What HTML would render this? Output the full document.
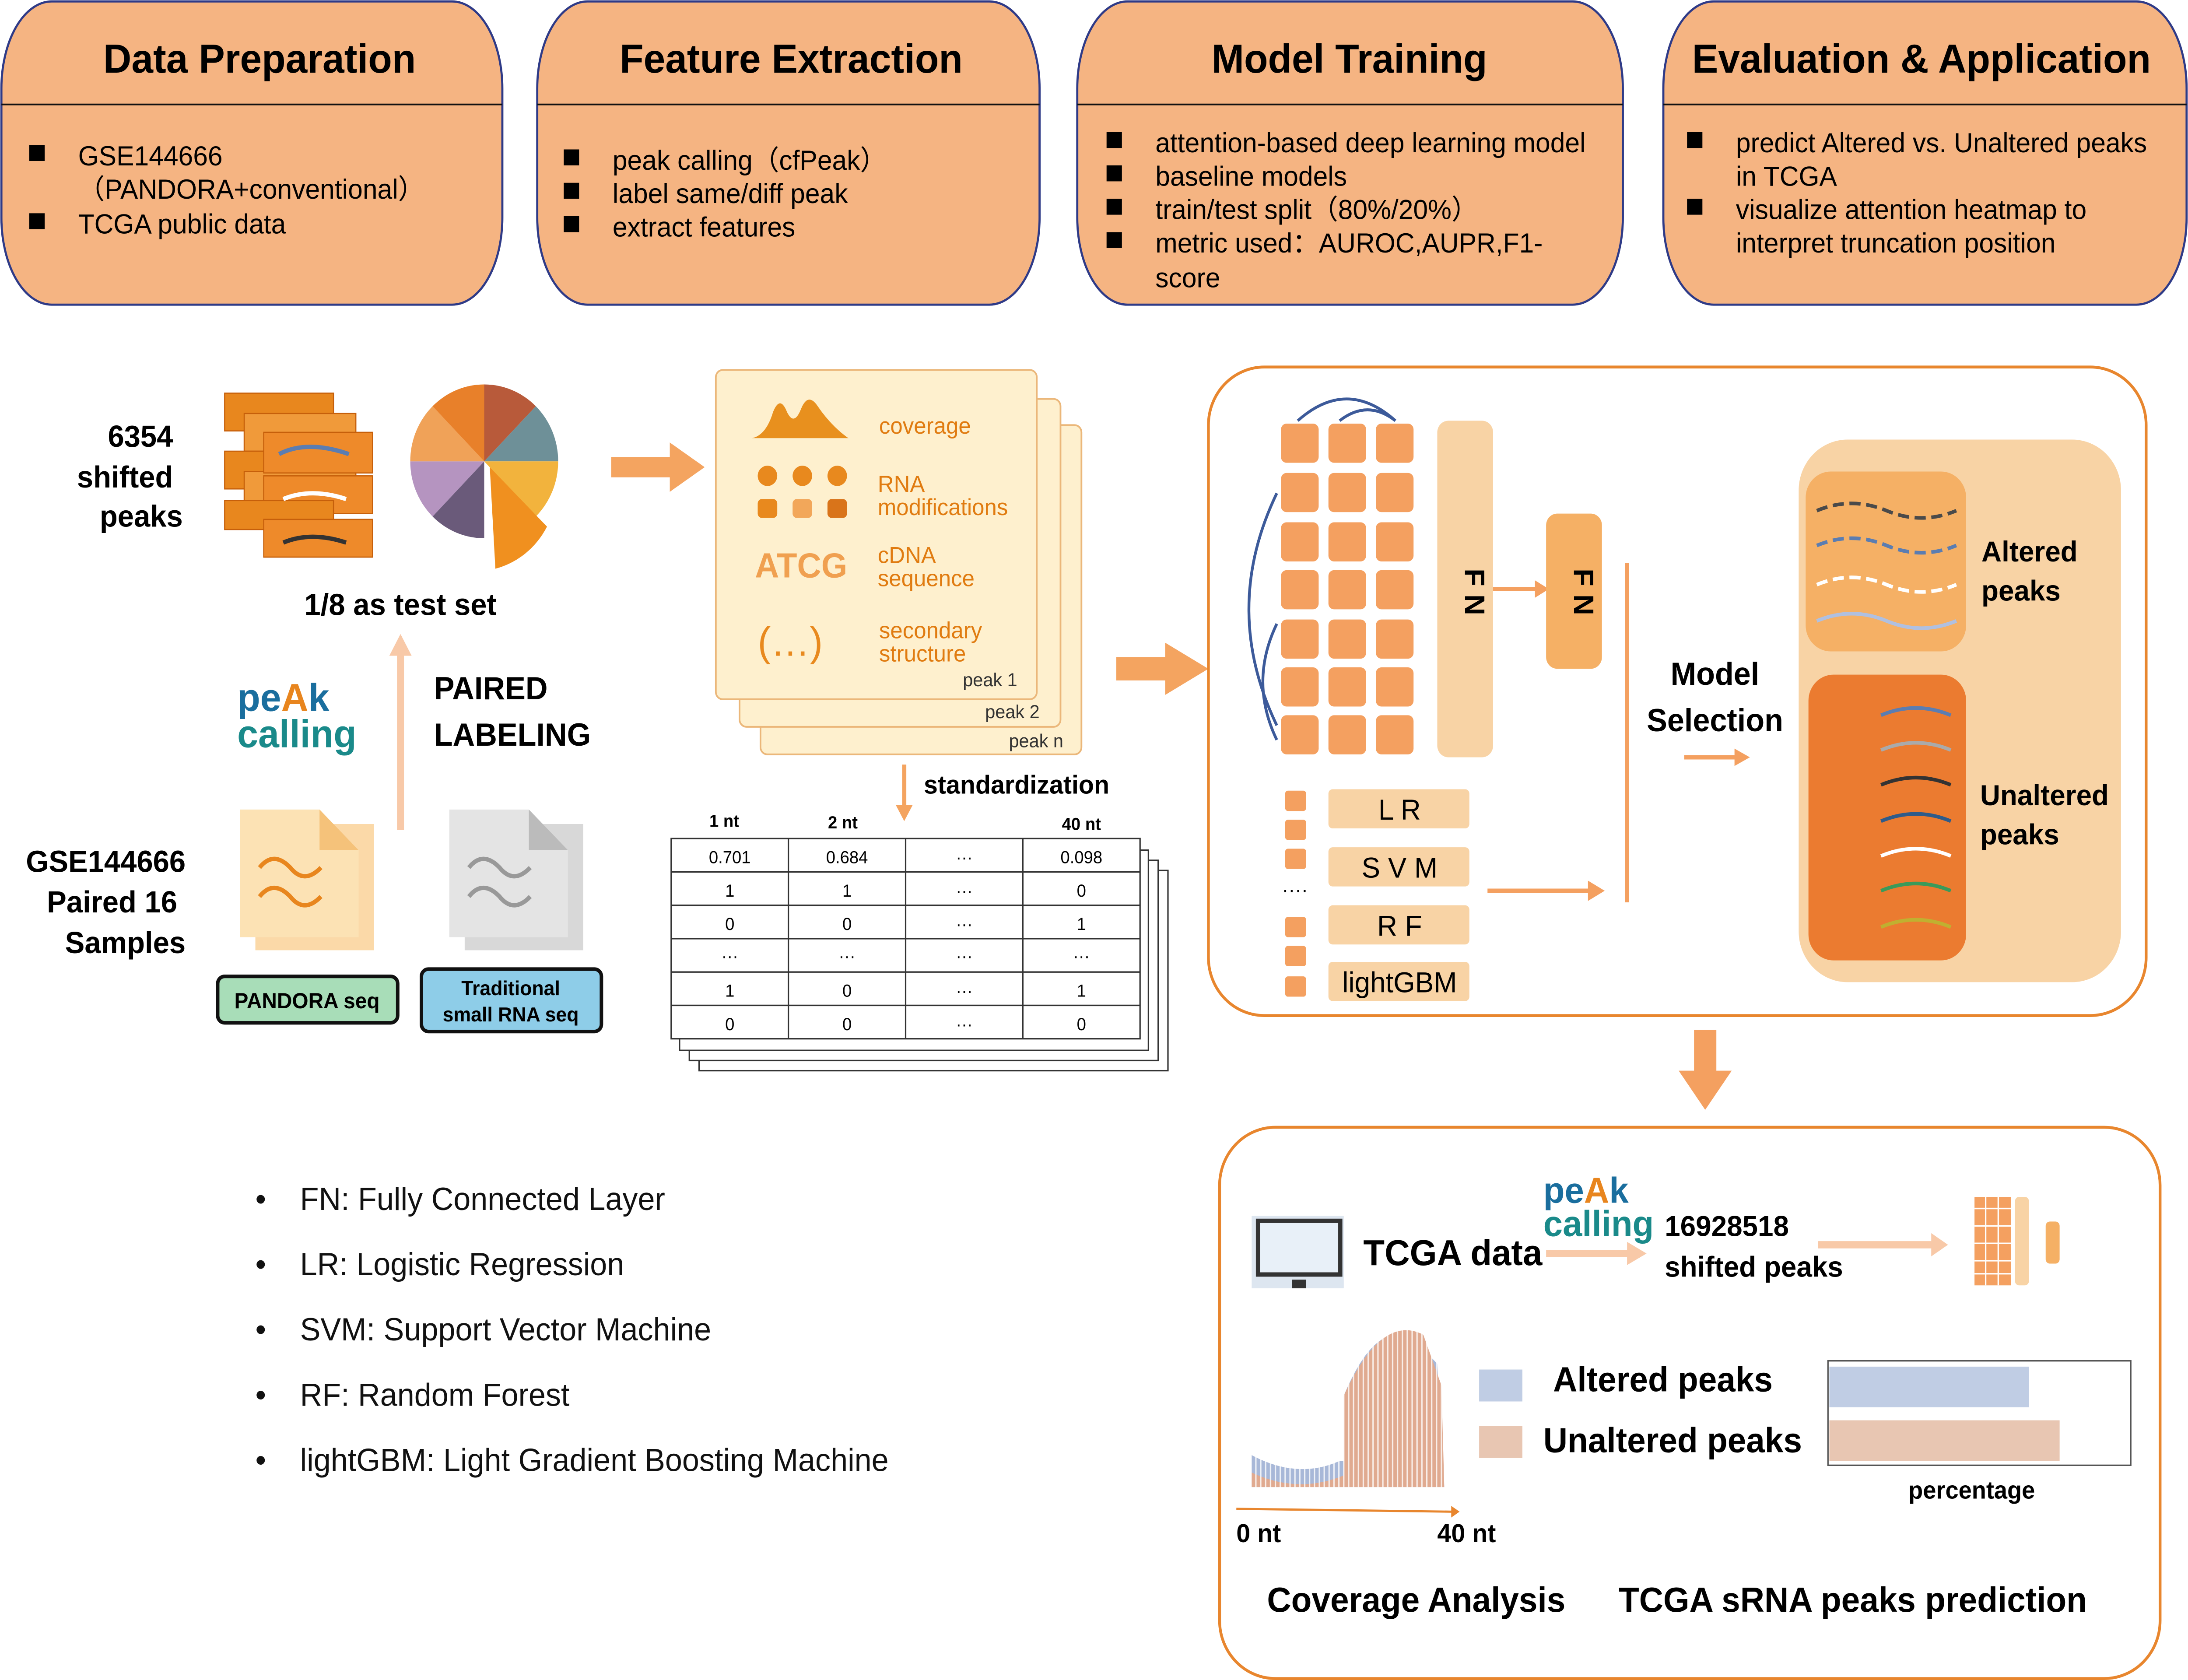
<!DOCTYPE html>
<html><head><meta charset="utf-8"><style>
html,body{margin:0;padding:0;background:#fff;overflow:hidden;width:100%;height:100%}
svg{display:block;width:100vw;height:100vh}
text{font-family:"Liberation Sans",sans-serif}
</style></head><body>
<svg viewBox="0 0 1568 1158" preserveAspectRatio="none" xmlns="http://www.w3.org/2000/svg">
<defs>
<pattern id="stripes" width="3.5" height="10" patternUnits="userSpaceOnUse"><rect width="1" height="10" fill="#fff" opacity="0.8"/></pattern>
</defs>
<g stroke="#2E3A87" stroke-width="1.5">
<rect x="1" y="1" width="359" height="209" rx="36" ry="60" fill="#F5B482"/>
<rect x="385" y="1" width="360" height="209" rx="36" ry="60" fill="#F5B482"/>
<rect x="772" y="1" width="391" height="209" rx="36" ry="60" fill="#F5B482"/>
<rect x="1192" y="1" width="375" height="209" rx="36" ry="60" fill="#F5B482"/>
</g>
<g stroke="#111" stroke-width="1.2">
<line x1="1" y1="72" x2="360" y2="72"/><line x1="385" y1="72" x2="745" y2="72"/>
<line x1="772" y1="72" x2="1163" y2="72"/><line x1="1192" y1="72" x2="1567" y2="72"/>
</g>
<g font-size="28" font-weight="bold" text-anchor="middle" fill="#000">
<text x="186" y="50">Data Preparation</text><text x="567" y="50">Feature Extraction</text>
<text x="967" y="50">Model Training</text><text x="1377" y="50">Evaluation &amp; Application</text>
</g>
<g font-size="19" fill="#000">
<rect x="21" y="100" width="11" height="11"/><text x="56" y="114">GSE144666</text>
<text x="56" y="137">（PANDORA+conventional）</text>
<rect x="21" y="147" width="11" height="11"/><text x="56" y="161">TCGA public data</text>
<rect x="404" y="103" width="11" height="11"/><text x="439" y="117">peak calling（cfPeak）</text>
<rect x="404" y="126" width="11" height="11"/><text x="439" y="140">label same/diff peak</text>
<rect x="404" y="149" width="11" height="11"/><text x="439" y="163">extract features</text>
<rect x="793" y="91" width="11" height="11"/><text x="828" y="105">attention-based deep learning model</text>
<rect x="793" y="114" width="11" height="11"/><text x="828" y="128">baseline models</text>
<rect x="793" y="137" width="11" height="11"/><text x="828" y="151">train/test split（80%/20%）</text>
<rect x="793" y="160" width="11" height="11"/><text x="828" y="174">metric used：AUROC,AUPR,F1-</text>
<text x="828" y="198">score</text>
<rect x="1209" y="91" width="11" height="11"/><text x="1244" y="105">predict Altered vs. Unaltered peaks</text>
<text x="1244" y="128">in TCGA</text>
<rect x="1209" y="137" width="11" height="11"/><text x="1244" y="151">visualize attention heatmap to</text>
<text x="1244" y="174">interpret truncation position</text>
</g>
<g font-size="21" font-weight="bold" text-anchor="end">
<text x="124" y="308">6354</text><text x="124" y="336">shifted</text><text x="131" y="363">peaks</text>
<text x="133" y="601">GSE144666</text><text x="127" y="629">Paired 16</text><text x="133" y="657">Samples</text>
</g>
<g stroke="#C65F0A" stroke-width="0.8">
<rect x="161" y="271" width="78" height="26" fill="#E8871E"/>
<rect x="175" y="285" width="80" height="26" fill="#F09A3A"/>
<rect x="161" y="311" width="78" height="26" fill="#E8871E"/>
<rect x="175" y="325" width="80" height="26" fill="#F09A3A"/>
<rect x="189" y="298" width="78" height="28" fill="#EE8A2A"/>
<rect x="189" y="328" width="78" height="26" fill="#EE8A2A"/>
<rect x="161" y="345" width="78" height="20" fill="#E8871E"/>
<rect x="189" y="358" width="78" height="26" fill="#EE8A2A"/>
</g>
<path d="M200,313 q20,-10 50,0" stroke="#5B7DB1" stroke-width="3" fill="none"/>
<path d="M203,344 q20,-8 45,0" stroke="#fff" stroke-width="3" fill="none"/>
<path d="M203,374 q20,-8 45,0" stroke="#333" stroke-width="3" fill="none"/>
<g transform="translate(347,318)">
<path d="M0,0 L0,-53 A53,53 0 0 1 37,-38 z" fill="#B85A3A"/>
<path d="M0,0 L37,-38 A53,53 0 0 1 53,0 z" fill="#6E9098"/>
<path d="M0,0 L53,0 A53,53 0 0 1 37,38 z" fill="#F2B33D"/>
<path d="M4,4 L45,45 A58,58 0 0 1 8,74 z" fill="#F0901F"/>
<path d="M0,0 L0,53 A53,53 0 0 1 -37,38 z" fill="#6A5A7A"/>
<path d="M0,0 L-37,38 A53,53 0 0 1 -53,0 z" fill="#B594C0"/>
<path d="M0,0 L-53,0 A53,53 0 0 1 -37,-38 z" fill="#F0A258"/>
<path d="M0,0 L-37,-38 A53,53 0 0 1 0,-53 z" fill="#E8802A"/>
</g>
<polygon points="438,315 480,315 480,305 505,322 480,339 480,329 438,329" fill="#F4A460"/>
<text x="287" y="424" font-size="21" font-weight="bold" text-anchor="middle">1/8 as test set</text>
<line x1="287" y1="572" x2="287" y2="450" stroke="#F8C9A8" stroke-width="5"/>
<polygon points="279,452 287,437 295,452" fill="#F8C9A8"/>
<text x="170" y="490" font-size="27" font-weight="bold" fill="#1A6E9E" font-family="Liberation Serif">pe<tspan fill="#E8851E">A</tspan>k</text>
<text x="170" y="515" font-size="27" font-weight="bold" fill="#1A8A8A" font-family="Liberation Serif">calling</text>
<g font-size="22" font-weight="bold"><text x="311" y="482">PAIRED</text><text x="311" y="514">LABELING</text></g>
<rect x="183" y="568" width="85" height="87" fill="#FBD9A8"/>
<path d="M172,558 h57 l28,28 v60 h-85 z" fill="#FCE2B4"/>
<path d="M229,558 v28 h28 z" fill="#F5C27A"/>
<path d="M186,598 q10,-12 22,0 q10,12 22,0 M186,618 q10,-12 22,0 q10,12 22,0" stroke="#E8861E" stroke-width="3" fill="none"/>
<rect x="333" y="568" width="85" height="87" fill="#D8D8D8"/>
<path d="M322,558 h57 l28,28 v60 h-85 z" fill="#E4E4E4"/>
<path d="M379,558 v28 h28 z" fill="#BBB"/>
<path d="M336,598 q10,-12 22,0 q10,12 22,0 M336,618 q10,-12 22,0 q10,12 22,0" stroke="#999" stroke-width="3" fill="none"/>
<rect x="156" y="673" width="129" height="32" rx="5" fill="#A8DDB8" stroke="#111" stroke-width="2.5"/>
<text x="220" y="695" font-size="15" font-weight="bold" text-anchor="middle">PANDORA seq</text>
<rect x="302" y="668" width="129" height="43" rx="5" fill="#8ECDE8" stroke="#111" stroke-width="2.5"/>
<text x="366" y="686" font-size="14" font-weight="bold" text-anchor="middle">Traditional</text>
<text x="366" y="704" font-size="14" font-weight="bold" text-anchor="middle">small RNA seq</text>
<g fill="#FEF0CE" stroke="#EBB77A" stroke-width="1.2">
<rect x="545" y="293" width="230" height="227" rx="5"/>
<rect x="530" y="275" width="230" height="226" rx="5"/>
<rect x="513" y="255" width="230" height="227" rx="5"/>
</g>
<path d="M539,302 q10,-2 15,-18 q5,-12 10,0 q5,10 10,-2 q5,-12 12,-2 q10,14 22,22 z" fill="#E8901E"/>
<g fill="#E8891E"><circle cx="550" cy="328" r="7"/><circle cx="575" cy="328" r="7"/><circle cx="600" cy="328" r="7"/>
<rect x="543" y="344" width="14" height="13" rx="3"/><rect x="568" y="344" width="14" height="13" rx="3" fill="#F2A75A"/><rect x="593" y="344" width="14" height="13" rx="3" fill="#D9741A"/></g>
<text x="541" y="398" font-size="24" font-weight="bold" fill="#F0A050">ATCG</text>
<text x="543" y="452" font-size="28" fill="#E8891E">(…)</text>
<g font-size="16" fill="#E07B10">
<text x="630" y="299">coverage</text><text x="629" y="339">RNA</text><text x="629" y="355">modifications</text>
<text x="629" y="388">cDNA</text><text x="629" y="404">sequence</text>
<text x="630" y="440">secondary</text><text x="630" y="456">structure</text></g>
<g font-size="13" fill="#333"><text x="690" y="473">peak 1</text><text x="706" y="495">peak 2</text><text x="723" y="515">peak n</text></g>
<line x1="648" y1="527" x2="648" y2="556" stroke="#F4A460" stroke-width="3"/>
<polygon points="642,555 648,566 654,555" fill="#F4A460"/>
<text x="662" y="547" font-size="18" font-weight="bold">standardization</text>
<g fill="#fff" stroke="#333" stroke-width="1">
<rect x="501" y="600" width="336" height="138"/><rect x="494" y="593" width="336" height="138"/><rect x="487" y="586" width="336" height="138"/>
<rect x="481" y="578" width="336" height="138"/></g>
<g stroke="#333" stroke-width="1">
<line x1="481" y1="601" x2="817" y2="601"/><line x1="481" y1="624" x2="817" y2="624"/><line x1="481" y1="647" x2="817" y2="647"/>
<line x1="481" y1="670" x2="817" y2="670"/><line x1="481" y1="693" x2="817" y2="693"/>
<line x1="565" y1="578" x2="565" y2="716"/><line x1="649" y1="578" x2="649" y2="716"/><line x1="733" y1="578" x2="733" y2="716"/>
</g>
<g font-size="12" text-anchor="middle">
<text x="519" y="570" font-weight="bold">1 nt</text><text x="604" y="571" font-weight="bold">2 nt</text><text x="775" y="572" font-weight="bold">40 nt</text>
<text x="523" y="595">0.701</text><text x="607" y="595">0.684</text><text x="691" y="595">···</text><text x="775" y="595">0.098</text>
<text x="523" y="618">1</text><text x="607" y="618">1</text><text x="691" y="618">···</text><text x="775" y="618">0</text>
<text x="523" y="641">0</text><text x="607" y="641">0</text><text x="691" y="641">···</text><text x="775" y="641">1</text>
<text x="523" y="663">···</text><text x="607" y="663">···</text><text x="691" y="663">···</text><text x="775" y="663">···</text>
<text x="523" y="687">1</text><text x="607" y="687">0</text><text x="691" y="687">···</text><text x="775" y="687">1</text>
<text x="523" y="710">0</text><text x="607" y="710">0</text><text x="691" y="710">···</text><text x="775" y="710">0</text>
</g>
<polygon points="800,453 835,453 835,443 866,461 835,479 835,469 800,469" fill="#F4A460"/>
<rect x="866" y="253" width="672" height="447" rx="40" fill="#fff" stroke="#E8862E" stroke-width="2"/>
<g fill="#F4A060">
<rect x="918" y="292" width="27" height="27" rx="4"/><rect x="952" y="292" width="27" height="27" rx="4"/><rect x="986" y="292" width="27" height="27" rx="4"/>
<rect x="918" y="326" width="27" height="27" rx="4"/><rect x="952" y="326" width="27" height="27" rx="4"/><rect x="986" y="326" width="27" height="27" rx="4"/>
<rect x="918" y="360" width="27" height="27" rx="4"/><rect x="952" y="360" width="27" height="27" rx="4"/><rect x="986" y="360" width="27" height="27" rx="4"/>
<rect x="918" y="393" width="27" height="27" rx="4"/><rect x="952" y="393" width="27" height="27" rx="4"/><rect x="986" y="393" width="27" height="27" rx="4"/>
<rect x="918" y="427" width="27" height="27" rx="4"/><rect x="952" y="427" width="27" height="27" rx="4"/><rect x="986" y="427" width="27" height="27" rx="4"/>
<rect x="918" y="460" width="27" height="27" rx="4"/><rect x="952" y="460" width="27" height="27" rx="4"/><rect x="986" y="460" width="27" height="27" rx="4"/>
<rect x="918" y="493" width="27" height="27" rx="4"/><rect x="952" y="493" width="27" height="27" rx="4"/><rect x="986" y="493" width="27" height="27" rx="4"/>
</g>
<g stroke="#3C5A9A" stroke-width="2" fill="none">
<path d="M930,290 q35,-30 70,0"/><path d="M960,290 q20,-15 40,0"/>
<path d="M915,340 q-40,80 0,160"/><path d="M915,430 q-20,40 0,80"/>
</g>
<rect x="1030" y="290" width="40" height="232" rx="8" fill="#F8D3A5"/>
<text x="1050" y="408" font-size="20" font-weight="bold" text-anchor="middle" transform="rotate(90 1050 408)">F N</text>
<line x1="1070" y1="406" x2="1102" y2="406" stroke="#F4A060" stroke-width="3"/><polygon points="1100,400 1110,406 1100,412" fill="#F4A060"/>
<rect x="1108" y="354" width="40" height="107" rx="8" fill="#F5B065"/>
<text x="1128" y="408" font-size="20" font-weight="bold" text-anchor="middle" transform="rotate(90 1128 408)">F N</text>
<g fill="#F4A060"><rect x="921" y="545" width="15" height="14" rx="2"/><rect x="921" y="565" width="15" height="14" rx="2"/><rect x="921" y="585" width="15" height="14" rx="2"/>
<rect x="921" y="632" width="15" height="14" rx="2"/><rect x="921" y="652" width="15" height="14" rx="2"/><rect x="921" y="673" width="15" height="14" rx="2"/></g>
<text x="928" y="618" font-size="14" text-anchor="middle">····</text>
<g fill="#F8D3A5"><rect x="952" y="544" width="101" height="27" rx="3"/><rect x="952" y="584" width="101" height="27" rx="3"/>
<rect x="952" y="624" width="101" height="27" rx="3"/><rect x="952" y="663" width="101" height="27" rx="3"/></g>
<g font-size="20" text-anchor="middle"><text x="1003" y="565">L R</text><text x="1003" y="605">S V M</text><text x="1003" y="645">R F</text><text x="1003" y="684">lightGBM</text></g>
<line x1="1066" y1="614" x2="1140" y2="614" stroke="#F4A060" stroke-width="3"/><polygon points="1138,607 1150,614 1138,621" fill="#F4A060"/>
<line x1="1166" y1="388" x2="1166" y2="622" stroke="#F4A060" stroke-width="3"/>
<g font-size="22" font-weight="bold" text-anchor="middle"><text x="1229" y="472">Model</text><text x="1229" y="504">Selection</text></g>
<line x1="1207" y1="522" x2="1245" y2="522" stroke="#F4A060" stroke-width="3"/><polygon points="1243,516 1254,522 1243,528" fill="#F4A060"/>
<rect x="1289" y="303" width="231" height="374" rx="35" fill="#F8D3A5"/>
<rect x="1294" y="325" width="115" height="124" rx="18" fill="#F5B065"/>
<rect x="1296" y="465" width="113" height="197" rx="18" fill="#EB7B30"/>
<g fill="none" stroke-width="2.5">
<path d="M1302,352 q25,-10 50,0 t50,0" stroke="#4A4A4A" stroke-dasharray="8 4"/>
<path d="M1302,376 q25,-10 50,0 t50,0" stroke="#5B7DB1" stroke-dasharray="8 4"/>
<path d="M1302,403 q25,-10 50,0 t50,0" stroke="#fff" stroke-dasharray="8 4"/>
<path d="M1302,428 q25,-10 50,0 t50,0" stroke="#B0C0E0"/>
<path d="M1348,493 q25,-10 50,0" stroke="#5B7DB1"/><path d="M1348,517 q25,-10 50,0" stroke="#aaa"/>
<path d="M1348,541 q25,-10 50,0" stroke="#333"/><path d="M1348,566 q25,-10 50,0" stroke="#2E5B8A"/>
<path d="M1348,590 q25,-10 50,0" stroke="#fff"/><path d="M1348,614 q25,-10 50,0" stroke="#3A9A5A"/>
<path d="M1348,639 q25,-10 50,0" stroke="#C0B030"/>
</g>
<g font-size="20" font-weight="bold"><text x="1420" y="387">Altered</text><text x="1420" y="414">peaks</text>
<text x="1419" y="555">Unaltered</text><text x="1419" y="582">peaks</text></g>
<polygon points="1214,710 1230,710 1230,738 1241,738 1222,765 1203,738 1214,738" fill="#F4A060"/>
<rect x="874" y="777" width="674" height="380" rx="40" fill="#fff" stroke="#E8862E" stroke-width="2"/>
<rect x="897" y="838" width="66" height="50" fill="#DDE6F0"/>
<rect x="900" y="840" width="62" height="40" fill="#333"/><rect x="903" y="843" width="56" height="34" fill="#E8F0F8"/>
<rect x="926" y="882" width="10" height="6" fill="#333"/>
<text x="977" y="872" font-size="25" font-weight="bold">TCGA data</text>
<text x="1106" y="829" font-size="25" font-weight="bold" fill="#1A6E9E" font-family="Liberation Serif">pe<tspan fill="#E8851E">A</tspan>k</text>
<text x="1106" y="852" font-size="25" font-weight="bold" fill="#1A8A8A" font-family="Liberation Serif">calling</text>
<line x1="1108" y1="864" x2="1170" y2="864" stroke="#F8C9A8" stroke-width="5"/><polygon points="1166,856 1180,864 1166,872" fill="#F8C9A8"/>
<g font-size="20" font-weight="bold"><text x="1193" y="852">16928518</text><text x="1193" y="880">shifted peaks</text></g>
<line x1="1303" y1="858" x2="1388" y2="858" stroke="#F8C9A8" stroke-width="5"/><polygon points="1384,850 1396,858 1384,866" fill="#F8C9A8"/>
<rect x="1415" y="825" width="26" height="61" fill="#F4A060"/>
<g stroke="#fff" stroke-width="1"><line x1="1423" y1="825" x2="1423" y2="886"/><line x1="1432" y1="825" x2="1432" y2="886"/>
<line x1="1415" y1="833" x2="1441" y2="833"/><line x1="1415" y1="845" x2="1441" y2="845"/><line x1="1415" y1="857" x2="1441" y2="857"/><line x1="1415" y1="869" x2="1441" y2="869"/><line x1="1415" y1="878" x2="1441" y2="878"/></g>
<rect x="1444" y="825" width="10" height="61" rx="3" fill="#F8D3A5"/><rect x="1466" y="842" width="10" height="29" rx="3" fill="#F5B065"/>
<path d="M897,1003 Q930,1020 960,1007 L963,1007 L963,962 Q990,900 1020,930 L1030,940 L1035,1025 L897,1025 z" fill="#A8B8D8"/>
<path d="M897,1015 Q930,1030 963,1017 L963,962 Q990,905 1020,920 L1033,955 L1035,1025 L897,1025 z" fill="#E0AA90"/>
<rect x="897" y="900" width="140" height="126" fill="url(#stripes)"/>
<line x1="886" y1="1040" x2="1042" y2="1042" stroke="#E8862E" stroke-width="1.5"/><polygon points="1040,1038 1046,1042 1040,1046" fill="#E8862E"/>
<g font-size="18" font-weight="bold"><text x="886" y="1063">0 nt</text><text x="1030" y="1063">40 nt</text></g>
<rect x="1060" y="944" width="31" height="22" fill="#C0CDE4"/><rect x="1060" y="983" width="31" height="22" fill="#E8C6B2"/>
<g font-size="24" font-weight="bold"><text x="1113" y="959">Altered peaks</text><text x="1106" y="1001">Unaltered peaks</text></g>
<rect x="1310" y="938" width="217" height="72" fill="#fff" stroke="#555" stroke-width="1"/>
<rect x="1311" y="942" width="143" height="28" fill="#C0CDE4"/><rect x="1311" y="979" width="165" height="28" fill="#E8C6B2"/>
<text x="1413" y="1033" font-size="17" font-weight="bold" text-anchor="middle">percentage</text>
<g font-size="24" font-weight="bold"><text x="908" y="1111">Coverage Analysis</text><text x="1160" y="1111">TCGA sRNA peaks prediction</text></g>
<g font-size="22" fill="#111">
<text x="183" y="834">•</text><text x="215" y="834">FN: Fully Connected Layer</text>
<text x="183" y="879">•</text><text x="215" y="879">LR: Logistic Regression</text>
<text x="183" y="924">•</text><text x="215" y="924">SVM: Support Vector Machine</text>
<text x="183" y="969">•</text><text x="215" y="969">RF: Random Forest</text>
<text x="183" y="1014">•</text><text x="215" y="1014">lightGBM:  Light Gradient Boosting Machine</text>
</g>
</svg>
</body></html>
